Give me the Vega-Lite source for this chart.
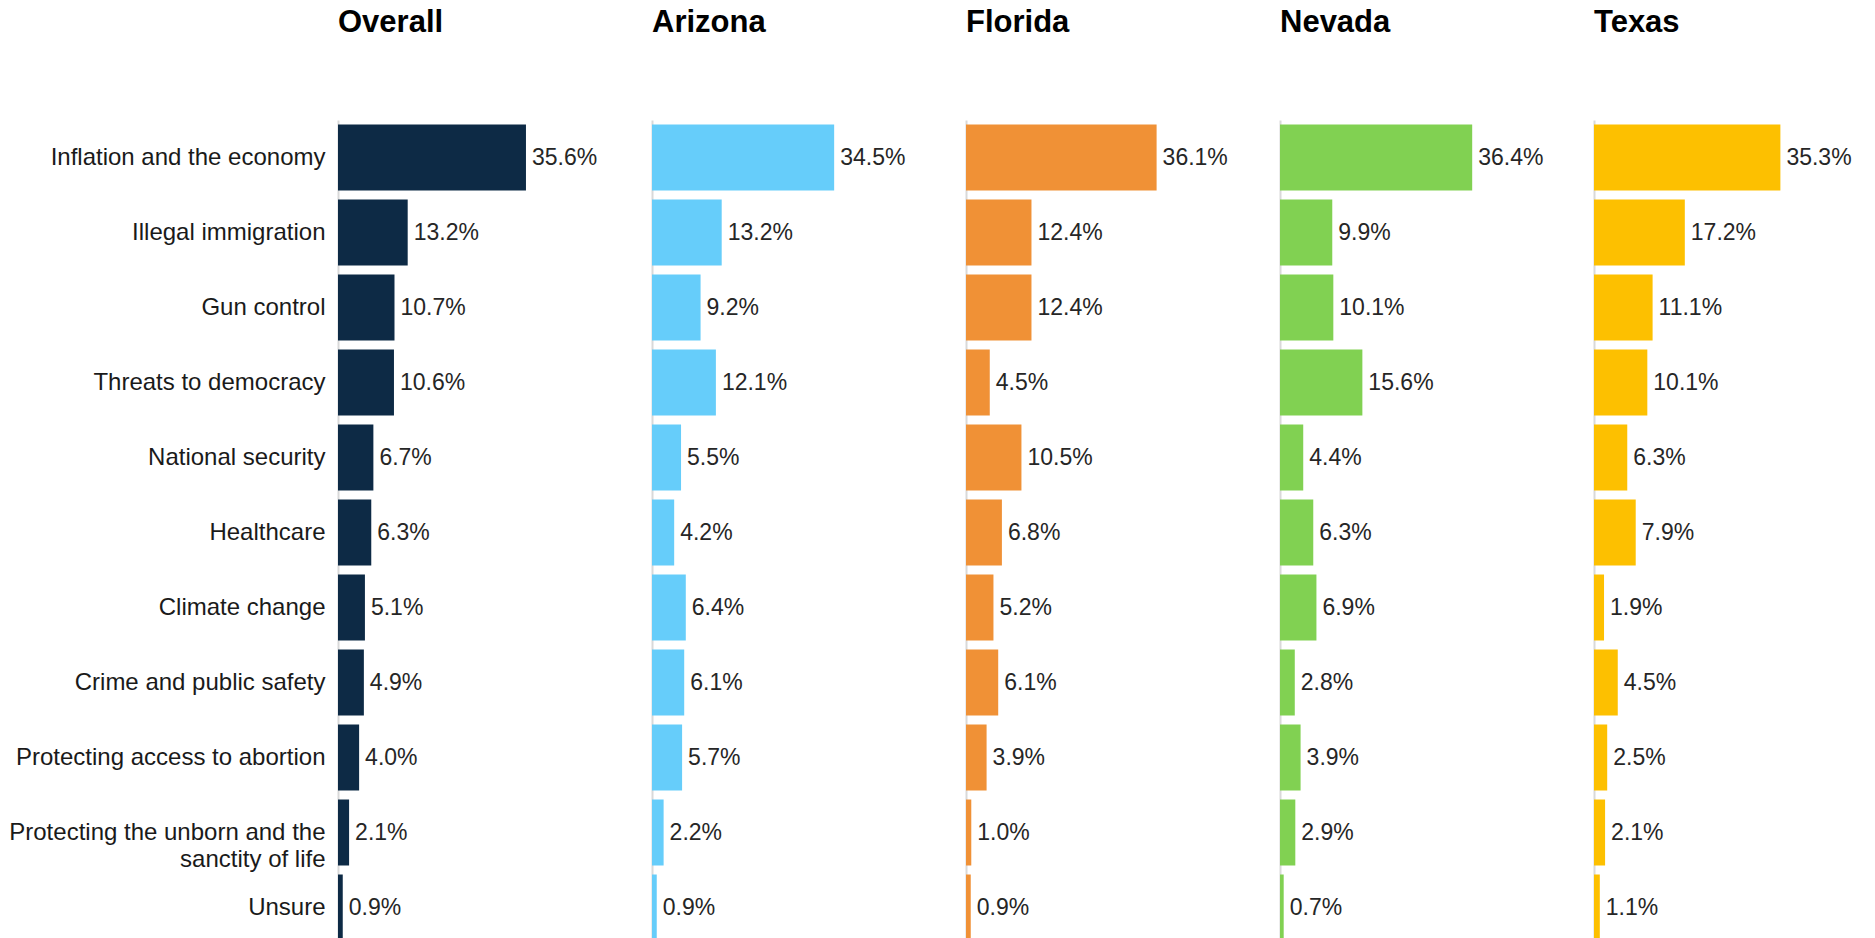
{
  "$schema": "https://vega.github.io/schema/vega-lite/v6.json",
  "background": "white",
  "padding": {"left": 8, "top": 7, "right": 0, "bottom": 0},
  "data": {"values": [
    {"region": "Overall", "issue": "Inflation and the economy", "share": 0.356},
    {"region": "Overall", "issue": "Illegal immigration", "share": 0.132},
    {"region": "Overall", "issue": "Gun control", "share": 0.107},
    {"region": "Overall", "issue": "Threats to democracy", "share": 0.106},
    {"region": "Overall", "issue": "National security", "share": 0.067},
    {"region": "Overall", "issue": "Healthcare", "share": 0.063},
    {"region": "Overall", "issue": "Climate change", "share": 0.051},
    {"region": "Overall", "issue": "Crime and public safety", "share": 0.049},
    {"region": "Overall", "issue": "Protecting access to abortion", "share": 0.040},
    {"region": "Overall", "issue": "Protecting the unborn and the sanctity of life", "share": 0.021},
    {"region": "Overall", "issue": "Unsure", "share": 0.009},
    {"region": "Arizona", "issue": "Inflation and the economy", "share": 0.345},
    {"region": "Arizona", "issue": "Illegal immigration", "share": 0.132},
    {"region": "Arizona", "issue": "Gun control", "share": 0.092},
    {"region": "Arizona", "issue": "Threats to democracy", "share": 0.121},
    {"region": "Arizona", "issue": "National security", "share": 0.055},
    {"region": "Arizona", "issue": "Healthcare", "share": 0.042},
    {"region": "Arizona", "issue": "Climate change", "share": 0.064},
    {"region": "Arizona", "issue": "Crime and public safety", "share": 0.061},
    {"region": "Arizona", "issue": "Protecting access to abortion", "share": 0.057},
    {"region": "Arizona", "issue": "Protecting the unborn and the sanctity of life", "share": 0.022},
    {"region": "Arizona", "issue": "Unsure", "share": 0.009},
    {"region": "Florida", "issue": "Inflation and the economy", "share": 0.361},
    {"region": "Florida", "issue": "Illegal immigration", "share": 0.124},
    {"region": "Florida", "issue": "Gun control", "share": 0.124},
    {"region": "Florida", "issue": "Threats to democracy", "share": 0.045},
    {"region": "Florida", "issue": "National security", "share": 0.105},
    {"region": "Florida", "issue": "Healthcare", "share": 0.068},
    {"region": "Florida", "issue": "Climate change", "share": 0.052},
    {"region": "Florida", "issue": "Crime and public safety", "share": 0.061},
    {"region": "Florida", "issue": "Protecting access to abortion", "share": 0.039},
    {"region": "Florida", "issue": "Protecting the unborn and the sanctity of life", "share": 0.010},
    {"region": "Florida", "issue": "Unsure", "share": 0.009},
    {"region": "Nevada", "issue": "Inflation and the economy", "share": 0.364},
    {"region": "Nevada", "issue": "Illegal immigration", "share": 0.099},
    {"region": "Nevada", "issue": "Gun control", "share": 0.101},
    {"region": "Nevada", "issue": "Threats to democracy", "share": 0.156},
    {"region": "Nevada", "issue": "National security", "share": 0.044},
    {"region": "Nevada", "issue": "Healthcare", "share": 0.063},
    {"region": "Nevada", "issue": "Climate change", "share": 0.069},
    {"region": "Nevada", "issue": "Crime and public safety", "share": 0.028},
    {"region": "Nevada", "issue": "Protecting access to abortion", "share": 0.039},
    {"region": "Nevada", "issue": "Protecting the unborn and the sanctity of life", "share": 0.029},
    {"region": "Nevada", "issue": "Unsure", "share": 0.007},
    {"region": "Texas", "issue": "Inflation and the economy", "share": 0.353},
    {"region": "Texas", "issue": "Illegal immigration", "share": 0.172},
    {"region": "Texas", "issue": "Gun control", "share": 0.111},
    {"region": "Texas", "issue": "Threats to democracy", "share": 0.101},
    {"region": "Texas", "issue": "National security", "share": 0.063},
    {"region": "Texas", "issue": "Healthcare", "share": 0.079},
    {"region": "Texas", "issue": "Climate change", "share": 0.019},
    {"region": "Texas", "issue": "Crime and public safety", "share": 0.045},
    {"region": "Texas", "issue": "Protecting access to abortion", "share": 0.025},
    {"region": "Texas", "issue": "Protecting the unborn and the sanctity of life", "share": 0.021},
    {"region": "Texas", "issue": "Unsure", "share": 0.011}
  ]},
  "facet": {
    "column": {
      "field": "region",
      "type": "nominal",
      "sort": ["Overall", "Arizona", "Florida", "Nevada", "Texas"],
      "header": {
        "title": null,
        "labelFont": "Liberation Sans",
        "labelFontSize": 31,
        "labelFontWeight": "bold",
        "labelColor": "#000000",
        "labelAnchor": "start",
        "labelPadding": 81
      }
    }
  },
  "spacing": 50,
  "spec": {
    "width": 264,
    "height": 825,
    "encoding": {
      "y": {
        "field": "issue",
        "type": "nominal",
        "sort": ["Inflation and the economy", "Illegal immigration", "Gun control", "Threats to democracy", "National security", "Healthcare", "Climate change", "Crime and public safety", "Protecting access to abortion", "Protecting the unborn and the sanctity of life", "Unsure"],
        "scale": {"paddingInner": 0.12, "paddingOuter": 0.06},
        "axis": {
          "title": null,
          "domain": false,
          "ticks": false,
          "labelFont": "Liberation Sans",
          "labelFontSize": 24,
          "labelColor": "#1a1a1a",
          "labelPadding": 13,
          "labelLimit": 500,
          "labelLineHeight": 27,
          "labelExpr": "datum.label == 'Protecting the unborn and the sanctity of life' ? ['Protecting the unborn and the', 'sanctity of life'] : datum.label"
        }
      },
      "x": {
        "field": "share",
        "type": "quantitative",
        "scale": {"domain": [0, 0.5]},
        "axis": {
          "title": null,
          "values": [0],
          "labels": false,
          "ticks": false,
          "domain": false,
          "grid": true,
          "gridColor": "#d9d9d9",
          "gridWidth": 2
        }
      }
    },
    "layer": [
      {
        "mark": {"type": "bar"},
        "encoding": {
          "color": {
            "field": "region",
            "type": "nominal",
            "scale": {
              "domain": ["Overall", "Arizona", "Florida", "Nevada", "Texas"],
              "range": ["#0d2a45", "#66cdfa", "#f09136", "#81d152", "#fdc000"]
            },
            "legend": null
          }
        }
      },
      {
        "mark": {"type": "text", "align": "left", "baseline": "middle", "dx": 6, "font": "Liberation Sans", "fontSize": 23, "color": "#262626"},
        "encoding": {
          "text": {"field": "share", "type": "quantitative", "format": ".1%"}
        }
      }
    ]
  },
  "config": {
    "view": {"stroke": null}
  }
}
